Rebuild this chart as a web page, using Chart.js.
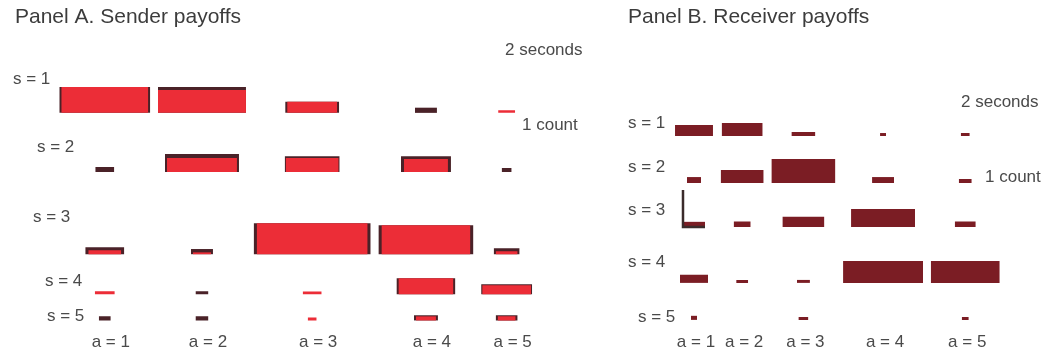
<!DOCTYPE html>
<html>
<head>
<meta charset="utf-8">
<script src="https://cdn.jsdelivr.net/npm/chart.js@4.4.1/dist/chart.umd.min.js"></script>
<style>
  html, body { margin: 0; padding: 0; background: #fff; }
  #wrap { position: relative; width: 1046px; height: 353px; }
  .panel { position: absolute; top: 0; height: 353px; }
  #panelA { left: 0; width: 600px; }
  #panelB { left: 600px; width: 446px; }
</style>
</head>
<body>
<div id="wrap">
  <div class="panel" id="panelA"><canvas id="chartA" width="600" height="353"></canvas></div>
  <div class="panel" id="panelB"><canvas id="chartB" width="446" height="353"></canvas></div>
</div>
<script>
// rectangle width = seconds, rectangle height = count (scale bar: 2 seconds / 1 count)
const SCALE_SEC = 2;
const SCALE_COUNT = 1;
const PX_PER_SEC = 11;
const PX_PER_COUNT = 37;

const senderLabels = ['s = 1', 's = 2', 's = 3', 's = 4', 's = 5'];
const actionLabels = ['a = 1', 'a = 2', 'a = 3', 'a = 4', 'a = 5'];

// Panel A: rows s = 1..5, columns a = 1..5
const senderDarkSec = [
  [8.27, 8.00, 4.91, 2.00, 0],
  [1.73, 6.73, 5.00, 4.55, 0.91],
  [3.55, 2.00, 10.64, 8.64, 2.36],
  [0, 1.18, 0, 5.36, 4.64],
  [1.09, 1.18, 0, 2.18, 2.00]
];
const senderDarkCount = [
  [0.70, 0.70, 0.30, 0.14, 0],
  [0.14, 0.49, 0.43, 0.43, 0.11],
  [0.19, 0.14, 0.84, 0.78, 0.16],
  [0, 0.08, 0, 0.43, 0.27],
  [0.11, 0.11, 0, 0.14, 0.14]
];
const senderRedSec = [
  [7.91, 8.00, 4.55, 0, 1.55],
  [0, 6.36, 4.82, 4.00, 0],
  [3.00, 1.64, 10.09, 8.09, 2.00],
  [1.82, 0, 1.73, 5.00, 4.45],
  [0, 0, 0.82, 1.82, 1.64]
];
const senderRedCount = [
  [0.70, 0.62, 0.30, 0, 0.07],
  [0, 0.38, 0.38, 0.35, 0],
  [0.11, 0.05, 0.84, 0.78, 0.08],
  [0.08, 0, 0.07, 0.43, 0.24],
  [0, 0, 0.08, 0.11, 0.11]
];

// Panel B
const receiverSec = [
  [3.45, 3.73, 2.18, 0.55, 0.82],
  [1.27, 3.91, 5.82, 2.00, 1.18],
  [2.00, 1.55, 3.82, 5.82, 1.91],
  [2.55, 1.09, 1.18, 7.27, 6.27],
  [0.55, 0, 0.91, 0, 0.64]
];
const receiverCount = [
  [0.30, 0.35, 0.11, 0.08, 0.08],
  [0.16, 0.35, 0.65, 0.16, 0.11],
  [0.14, 0.15, 0.28, 0.49, 0.15],
  [0.22, 0.08, 0.08, 0.59, 0.59],
  [0.11, 0, 0.08, 0, 0.08]
];

const RED = '#ec2d37';
const DARK = '#4a2228';
const MAROON = '#7b1d24';
const TEXT = '#4a4a4a';
const FONT = '"Liberation Sans", Arial, sans-serif';
const COL_GAP = 0.7; // seconds between packed columns

// columns packed by widest rect, rows stacked by tallest rect
function layout(secLists, cntLists, firstLeft, firstBase, rowGaps) {
  const colW = [0, 1, 2, 3, 4].map(j => Math.max(...secLists.flatMap(l => l.map(r => r[j]))));
  const rowH = [0, 1, 2, 3, 4].map(i => Math.max(...cntLists.flatMap(l => l[i])));
  const centers = [];
  colW.forEach((w, j) => centers.push(j === 0 ? firstLeft + w / 2 : centers[j - 1] + colW[j - 1] / 2 + COL_GAP + w / 2));
  const bases = [];
  rowH.forEach((h, i) => bases.push(i === 0 ? firstBase : bases[i - 1] - rowGaps[i - 1] - h));
  return { centers, bases };
}

function rectSets(sec, cnt, lay, color, order) {
  const sets = [];
  sec.forEach((row, i) => row.forEach((w, j) => {
    const h = cnt[i][j];
    if (!w || !h) return;
    const c = lay.centers[j], b = lay.bases[i];
    sets.push({
      data: [{ x: c - w / 2, y: b + h }, { x: c + w / 2, y: b + h }],
      fill: { value: b }, backgroundColor: color, borderWidth: 0,
      pointRadius: 0, order
    });
  }));
  return sets;
}

const textPlugin = {
  id: 'panelText',
  afterDraw(chart, args, opts) {
    const ctx = chart.ctx;
    ctx.save();
    ctx.textBaseline = 'middle';
    ctx.fillStyle = '#3c3c3c';
    ctx.font = '21px ' + FONT;
    ctx.textAlign = 'left';
    ctx.fillText(opts.title, opts.titleX, 17);
    ctx.fillStyle = TEXT;
    ctx.font = '17px ' + FONT;
    opts.rowPos.forEach((p, i) => ctx.fillText(senderLabels[i], p[0], p[1]));
    opts.legend.forEach(t => ctx.fillText(t[0], t[1], t[2]));
    ctx.textAlign = 'center';
    opts.centers.forEach((c, j) => ctx.fillText(actionLabels[j], chart.scales.x.getPixelForValue(c) + opts.nudge, 342));
    ctx.restore();
  }
};

function makeChart(id, widthPx, datasets, textOpts) {
  return new Chart(document.getElementById(id), {
    type: 'line',
    data: { datasets },
    options: {
      responsive: false, animation: false, devicePixelRatio: 1,
      layout: { padding: 0, autoPadding: false },
      scales: {
        x: { type: 'linear', min: 0, max: widthPx / PX_PER_SEC, display: false },
        y: { type: 'linear', min: 0, max: 353 / PX_PER_COUNT, display: false }
      },
      elements: { line: { tension: 0 } },
      plugins: { legend: { display: false }, tooltip: { enabled: false }, panelText: textOpts }
    },
    plugins: [textPlugin]
  });
}

const layA = layout([senderDarkSec, senderRedSec], [senderDarkCount, senderRedCount], 5.39, 6.49, [1.11, 1.38, 0.65, 0.57]);
makeChart('chartA', 600, [
  ...rectSets(senderRedSec, senderRedCount, layA, RED, 1),
  ...rectSets(senderDarkSec, senderDarkCount, layA, DARK, 2)
], {
  title: 'Panel A. Sender payoffs', titleX: 15, centers: layA.centers, nudge: 6,
  rowPos: [[13, 79], [37, 147], [33, 217], [45, 281], [47, 316]],
  legend: [['2 seconds', 505, 50], ['1 count', 522, 125]]
});

const layB = layout([receiverSec], [receiverCount], 6.82, 5.865, [0.62, 0.70, 0.92, 0.89]);
const barX = layB.centers[0] - receiverSec[2][0] / 2;
const barY = layB.bases[2];
makeChart('chartB', 446, [
  {
    data: [{ x: barX, y: barY + SCALE_COUNT }, { x: barX, y: barY }, { x: barX + SCALE_SEC, y: barY }],
    borderColor: '#3b2b2b', borderWidth: 2.5, fill: false, pointRadius: 0, order: 0
  },
  ...rectSets(receiverSec, receiverCount, layB, MAROON, 1)
], {
  title: 'Panel B. Receiver payoffs', titleX: 28, centers: layB.centers, nudge: 2,
  rowPos: [[28, 123], [28, 167], [28, 210], [28, 262], [38, 317]],
  legend: [['2 seconds', 361, 102], ['1 count', 385, 177]]
});
</script>
</body>
</html>
